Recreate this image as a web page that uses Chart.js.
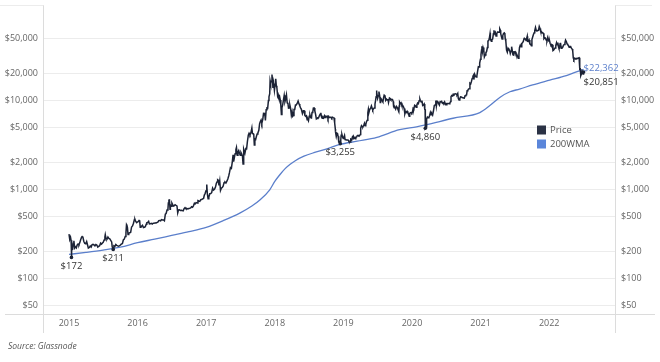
<!DOCTYPE html>
<html>
<head>
<meta charset="utf-8">
<script src="https://cdn.jsdelivr.net/npm/chart.js@4.4.1/dist/chart.umd.min.js"></script>
<style>
  html, body { margin: 0; padding: 0; background: #fff; }
  #wrap { position: relative; width: 660px; height: 362px; }
</style>
</head>
<body>
<div id="wrap"><canvas id="chart" width="660" height="362"></canvas></div>
<script>
// BTC price (daily close, sampled) by year: [MM-DD, USD]
const price2015 = [['01-01',315],['01-05',274],['01-09',290],['01-12',268],['01-14',172],['01-16',209],['01-20',211],['01-24',248],['01-27',265],['01-31',220],['02-04',227],['02-09',220],['02-13',236],['02-18',243],['02-23',238],['02-28',254],['03-04',272],['03-09',290],['03-12',295],['03-16',290],['03-21',260],['03-26',247],['03-31',245],['04-05',259],['04-10',236],['04-14',219],['04-19',222],['04-24',231],['04-29',225],['05-04',240],['05-09',242],['05-14',237],['05-19',232],['05-24',240],['05-29',237],['06-03',225],['06-08',229],['06-13',233],['06-18',249],['06-23',243],['06-28',250],['07-02',255],['07-07',270],['07-11',293],['07-13',310],['07-17',279],['07-22',277],['07-27',292],['08-01',281],['08-06',278],['08-11',268],['08-16',257],['08-19',226],['08-24',211],['08-28',232],['09-02',229],['09-07',240],['09-12',235],['09-17',232],['09-22',230],['09-27',233],['10-02',237],['10-07',244],['10-12',246],['10-17',270],['10-22',276],['10-27',295],['10-31',325],['11-03',402],['11-05',395],['11-08',372],['11-11',312],['11-15',320],['11-20',326],['11-25',328],['11-30',378],['12-05',388],['12-10',417],['12-15',458],['12-18',461],['12-22',436],['12-27',422],['12-31',430]];
const price2016 = [['01-04',433],['01-09',449],['01-12',446],['01-15',375],['01-19',380],['01-23',388],['01-27',395],['02-01',372],['02-06',376],['02-11',380],['02-16',407],['02-19',421],['02-24',424],['02-29',437],['03-04',410],['03-09',412],['03-14',415],['03-19',408],['03-24',417],['03-29',416],['04-03',420],['04-08',421],['04-13',424],['04-18',428],['04-23',446],['04-28',448],['05-03',444],['05-08',458],['05-13',454],['05-18',453],['05-23',444],['05-28',527],['06-01',536],['06-06',585],['06-11',608],['06-13',703],['06-16',760],['06-19',763],['06-22',597],['06-24',665],['06-28',647],['07-02',703],['07-06',676],['07-10',650],['07-14',654],['07-19',672],['07-24',661],['07-29',655],['08-02',545],['08-06',587],['08-11',589],['08-16',581],['08-21',583],['08-26',578],['08-31',574],['09-05',608],['09-10',624],['09-15',607],['09-20',609],['09-25',602],['09-30',609],['10-05',613],['10-10',619],['10-15',638],['10-20',630],['10-25',654],['10-30',699],['11-03',688],['11-08',710],['11-13',703],['11-18',749],['11-23',741],['11-28',734],['12-03',765],['12-08',768],['12-13',781],['12-18',791],['12-22',864],['12-26',897],['12-31',964]];
const price2017 = [['01-03',1021],['01-05',1135],['01-07',895],['01-11',785],['01-15',822],['01-20',895],['01-25',896],['01-30',920],['02-04',1033],['02-09',980],['02-14',1000],['02-19',1055],['02-24',1172],['03-01',1223],['03-03',1285],['03-06',1272],['03-10',1108],['03-14',1244],['03-18',974],['03-23',1040],['03-27',1046],['04-01',1089],['04-06',1190],['04-11',1210],['04-16',1180],['04-21',1236],['04-26',1310],['05-01',1422],['05-05',1550],['05-10',1755],['05-15',1725],['05-20',2048],['05-24',2445],['05-27',2052],['05-31',2287],['06-04',2518],['06-08',2795],['06-11',2958],['06-15',2426],['06-19',2619],['06-23',2732],['06-27',2553],['07-01',2424],['07-05',2602],['07-09',2504],['07-13',2355],['07-16',1929],['07-18',2310],['07-21',2832],['07-26',2548],['07-31',2875],['08-04',2856],['08-08',3412],['08-13',4073],['08-17',4276],['08-22',4089],['08-27',4345],['09-01',4892],['09-04',4235],['09-08',4226],['09-11',4161],['09-14',3154],['09-17',3681],['09-21',3631],['09-25',3932],['09-29',4193],['10-03',4314],['10-08',4611],['10-12',5432],['10-15',5711],['10-20',6006],['10-24',5525],['10-29',6130],['11-02',7144],['11-07',7118],['11-10',6618],['11-12',5950],['11-16',7871],['11-20',8201],['11-24',8148],['11-28',9958],['12-01',10975],['12-05',11916],['12-07',16600],['12-10',15455],['12-13',16408],['12-17',19497],['12-20',16624],['12-22',13831],['12-26',15838],['12-30',12952]];
const price2018 = [['01-03',15201],['01-06',17527],['01-09',14595],['01-12',13980],['01-16',11180],['01-19',11600],['01-22',10851],['01-26',11171],['01-30',10107],['02-02',8830],['02-05',6955],['02-08',8260],['02-12',8926],['02-16',10167],['02-20',11403],['02-24',9664],['02-28',10326],['03-04',11513],['03-08',9395],['03-12',9205],['03-15',8200],['03-18',8223],['03-22',8900],['03-26',8130],['03-30',6853],['04-03',7456],['04-06',6636],['04-10',6782],['04-13',7895],['04-17',7902],['04-21',8859],['04-25',8864],['04-30',9240],['05-05',9819],['05-10',9082],['05-14',8673],['05-18',8246],['05-22',8000],['05-28',7118],['06-02',7640],['06-06',7657],['06-10',6775],['06-14',6634],['06-18',6712],['06-22',6051],['06-26',6134],['06-29',5903],['07-03',6626],['07-07',6856],['07-11',6394],['07-15',6353],['07-18',7334],['07-22',7404],['07-25',8170],['07-29',8212],['08-02',7596],['08-06',6950],['08-10',6185],['08-14',6273],['08-18',6389],['08-22',6380],['08-26',6724],['08-30',6976],['09-03',7264],['09-06',6529],['09-10',6301],['09-14',6487],['09-18',6341],['09-22',6711],['09-26',6444],['09-30',6626],['10-04',6589],['10-08',6633],['10-11',6252],['10-15',6597],['10-19',6410],['10-23',6418],['10-27',6485],['10-31',6318],['11-04',6472],['11-08',6400],['11-12',6356],['11-14',5726],['11-17',5578],['11-19',4776],['11-20',4434],['11-24',3920],['11-28',4278],['12-01',4214],['12-04',3950],['12-07',3422],['12-11',3454],['12-15',3255],['12-18',3617],['12-20',4058],['12-24',4143],['12-28',3857],['12-31',3743]];
const price2019 = [['01-04',3857],['01-07',4025],['01-10',3630],['01-14',3630],['01-18',3600],['01-22',3597],['01-27',3583],['01-30',3470],['02-03',3411],['02-07',3399],['02-09',3661],['02-14',3593],['02-18',3903],['02-22',3984],['02-24',3743],['02-28',3813],['03-04',3707],['03-08',3865],['03-12',3871],['03-16',4025],['03-20',4050],['03-24',3994],['03-28',4024],['04-01',4147],['04-03',4880],['04-07',5199],['04-11',5050],['04-15',5049],['04-20',5326],['04-23',5528],['04-26',5198],['04-30',5350],['05-04',5777],['05-08',5990],['05-11',7263],['05-14',7994],['05-17',7363],['05-21',7962],['05-25',8062],['05-30',8660],['06-03',8155],['06-06',7790],['06-10',8022],['06-14',8230],['06-18',9080],['06-21',9930],['06-24',11020],['06-26',12900],['06-28',12410],['07-02',10580],['07-06',11300],['07-09',12570],['07-13',11350],['07-16',9470],['07-18',10620],['07-22',10320],['07-26',9890],['07-30',9590],['08-03',10820],['08-06',11460],['08-10',11280],['08-14',10030],['08-18',10360],['08-22',10130],['08-26',10360],['08-29',9490],['09-03',10620],['09-07',10470],['09-11',10160],['09-15',10310],['09-19',10270],['09-23',9710],['09-25',8550],['09-28',8250],['10-02',8330],['10-06',7990],['10-10',8580],['10-14',8360],['10-18',7940],['10-23',7470],['10-25',8660],['10-27',9550],['10-31',9200],['11-04',9410],['11-08',8760],['11-12',8800],['11-16',8500],['11-20',8110],['11-24',7050],['11-28',7500],['12-02',7320],['12-06',7550],['12-10',7220],['12-14',7080],['12-17',6640],['12-20',7150],['12-24',7260],['12-28',7300],['12-31',7190]];
const price2020 = [['01-03',7340],['01-07',8170],['01-11',8040],['01-15',8820],['01-19',8700],['01-23',8400],['01-27',8900],['01-31',9350],['02-04',9180],['02-08',9900],['02-12',10350],['02-15',9900],['02-19',9600],['02-23',9960],['02-27',8780],['03-02',8900],['03-06',9120],['03-09',7940],['03-11',7900],['03-12',4860],['03-16',5020],['03-19',6190],['03-23',6490],['03-27',6370],['03-31',6440],['04-04',6780],['04-08',7330],['04-12',6910],['04-16',7110],['04-20',6840],['04-24',7550],['04-29',8790],['05-03',8900],['05-07',9980],['05-10',8600],['05-14',9790],['05-18',9730],['05-22',9170],['05-26',8840],['05-30',9700],['06-03',9660],['06-07',9760],['06-11',9300],['06-15',9440],['06-19',9300],['06-23',9630],['06-27',9010],['07-01',9230],['07-05',9070],['07-09',9250],['07-13',9250],['07-17',9150],['07-21',9380],['07-25',9700],['07-27',11000],['07-31',11350],['08-04',11210],['08-08',11760],['08-12',11580],['08-16',11850],['08-20',11880],['08-24',11750],['08-28',11540],['09-01',11970],['09-04',10510],['09-08',10130],['09-12',10440],['09-16',10960],['09-20',10920],['09-24',10750],['09-28',10700],['10-02',10620],['10-06',10600],['10-10',11300],['10-14',11430],['10-18',11500],['10-21',12820],['10-25',13030],['10-29',13440],['11-02',13550],['11-05',15590],['11-09',15310],['11-13',16300],['11-17',17650],['11-21',18690],['11-24',19160],['11-26',17150],['11-30',19700],['12-04',18880],['12-08',18320],['12-12',18800],['12-16',21310],['12-20',23870],['12-24',23730],['12-27',26280],['12-31',28990]];
const price2021 = [['01-03',32780],['01-06',36820],['01-08',40580],['01-11',35500],['01-14',39190],['01-18',36630],['01-21',30830],['01-25',32290],['01-29',34270],['02-02',35510],['02-06',39260],['02-09',46400],['02-13',47170],['02-16',49200],['02-20',55890],['02-21',57490],['02-23',48820],['02-27',46280],['03-02',48380],['03-06',48880],['03-10',55960],['03-13',61240],['03-16',56440],['03-20',58330],['03-24',52800],['03-28',55970],['04-01',58800],['04-05',58750],['04-09',58220],['04-13',63500],['04-16',61340],['04-18',56220],['04-22',51760],['04-25',49060],['04-29',53550],['05-03',56620],['05-07',57350],['05-10',55860],['05-12',49150],['05-15',46760],['05-19',36690],['05-23',34770],['05-27',38530],['05-31',37330],['06-04',36880],['06-08',33560],['06-12',35560],['06-15',40160],['06-19',35800],['06-22',32510],['06-26',32240],['06-30',35040],['07-04',35290],['07-08',32870],['07-12',33100],['07-16',31530],['07-20',29790],['07-24',33820],['07-27',39390],['07-31',41630],['08-04',39970],['08-08',43810],['08-12',44420],['08-16',45980],['08-20',49330],['08-23',49550],['08-27',48900],['08-31',47170],['09-03',49940],['09-06',52670],['09-08',46060],['09-12',46050],['09-16',47790],['09-20',43010],['09-24',42840],['09-28',41030],['10-01',48230],['10-05',51510],['10-09',54970],['10-13',57400],['10-16',60920],['10-20',65990],['10-24',60930],['10-28',60620],['11-01',61000],['11-05',61130],['11-09',67570],['11-13',64160],['11-16',60370],['11-20',59730],['11-24',57170],['11-28',57250],['12-02',56510],['12-04',49370],['12-08',50580],['12-12',50100],['12-16',47630],['12-20',46680],['12-24',50830],['12-28',47590],['12-31',46310]];
const price2022 = [['01-03',46460],['01-06',43570],['01-10',41860],['01-13',42590],['01-17',42250],['01-21',36280],['01-24',36690],['01-28',37720],['02-01',38740],['02-05',41410],['02-09',44380],['02-12',42210],['02-16',44580],['02-19',40120],['02-22',38280],['02-24',38360],['02-28',43190],['03-02',44360],['03-06',38420],['03-10',39280],['03-14',39670],['03-18',41790],['03-22',42360],['03-26',44540],['03-29',47460],['04-02',45810],['04-06',43210],['04-10',42160],['04-13',41150],['04-17',39680],['04-21',40480],['04-25',40440],['04-29',38600],['05-03',37750],['05-06',36040],['05-09',30100],['05-12',28940],['05-16',29830],['05-20',29200],['05-24',29650],['05-28',29460],['06-01',29800],['06-05',29910],['06-09',30110],['06-12',26760],['06-13',22490],['06-15',22570],['06-18',19020],['06-22',19950],['06-26',21030],['06-30',19780],['07-03',20851]];

// 200-week moving average: [date, USD]
const wma200 = [['2015-01-01',186],['2015-04-01',196],['2015-07-01',208],['2015-10-01',224],['2016-01-01',252],['2016-04-01',276],['2016-07-01',304],['2016-10-01',335],['2017-01-01',375],['2017-04-01',445],['2017-07-01',545],['2017-09-01',650],['2017-10-15',765],['2017-12-05',990],['2018-01-01',1230],['2018-01-30',1480],['2018-02-25',1710],['2018-03-22',1900],['2018-04-20',2100],['2018-06-05',2360],['2018-08-01',2600],['2018-10-05',2850],['2018-12-13',3200],['2019-03-15',3480],['2019-06-28',3850],['2019-10-27',4700],['2020-01-25',5050],['2020-03-13',5300],['2020-08-07',6300],['2020-12-28',7300],['2021-02-21',8800],['2021-04-13',10800],['2021-06-06',12500],['2021-07-27',13400],['2021-10-05',14950],['2022-01-04',16900],['2022-04-02',19000],['2022-07-03',22362]];

const priceYears = { 2015: price2015, 2016: price2016, 2017: price2017, 2018: price2018, 2019: price2019, 2020: price2020, 2021: price2021, 2022: price2022 };
const markedDates = ['2015-01-14', '2015-08-24', '2018-12-15', '2020-03-12', '2022-07-03'];
const yearTicks = [2015, 2016, 2017, 2018, 2019, 2020, 2021, 2022];
const priceTicks = [50, 100, 200, 500, 1000, 2000, 5000, 10000, 20000, 50000];
const seriesNames = ['Price', '200WMA'];

const PRICE_COLOR = '#1c2336';
const WMA_COLOR = '#5b7fcb';
const FONT = "'Open Sans', sans-serif";

function toYear(s) {
  const d = Date.parse(s + 'T00:00:00Z');
  const y = +s.slice(0, 4);
  const a = Date.UTC(y, 0, 1), b = Date.UTC(y + 1, 0, 1);
  return y + (d - a) / (b - a);
}

const priceData = [];
const markedIdx = new Set();
Object.keys(priceYears).forEach(yr => {
  priceYears[yr].forEach(([md, v]) => {
    const date = yr + '-' + md;
    if (markedDates.includes(date)) markedIdx.add(priceData.length);
    priceData.push({ x: toYear(date), y: v });
  });
});
const wmaData = wma200.map(([d, v]) => ({ x: toYear(d), y: v }));

const money = v => '$' + Math.round(v).toLocaleString('en-US');

const framePlugin = {
  id: 'frame',
  beforeDatasetsDraw(chart) {
    const { ctx, chartArea: a } = chart;
    ctx.save();
    ctx.strokeStyle = '#dcdcdc';
    ctx.lineWidth = 1;
    ctx.beginPath();
    const L = Math.round(a.left) + 0.5, R = Math.round(a.right) + 0.5, B = Math.round(a.bottom) + 0.5;
    ctx.moveTo(L, 5); ctx.lineTo(L, 333);
    ctx.moveTo(R, 5); ctx.lineTo(R, 333);
    ctx.moveTo(5, B); ctx.lineTo(655, B);
    ctx.stroke();
    ctx.strokeStyle = '#ececec';
    ctx.beginPath();
    ctx.moveTo(0, 5.5); ctx.lineTo(L, 5.5);
    ctx.moveTo(R, 5.5); ctx.lineTo(652, 5.5);
    ctx.stroke();
    ctx.restore();
  },
  afterDatasetsDraw(chart) {
    const { ctx } = chart;
    const pts = chart.getDatasetMeta(0).data;
    const wpts = chart.getDatasetMeta(1).data;
    const last = priceData.length - 1;
    ctx.save();
    ctx.font = '9.5px ' + FONT;
    ctx.fillStyle = '#333';
    ctx.textBaseline = 'middle';
    markedIdx.forEach(i => {
      const p = pts[i];
      const txt = money(priceData[i].y);
      if (i === last) {
        ctx.textAlign = 'left';
        ctx.fillText(txt, p.x, p.y + 10);
      } else {
        ctx.textAlign = 'center';
        ctx.fillText(txt, p.x, p.y + 9);
      }
    });
    const w = wpts[wpts.length - 1];
    ctx.fillStyle = WMA_COLOR;
    ctx.textAlign = 'left';
    ctx.fillText(money(wmaData[wmaData.length - 1].y), w.x, w.y - 1);

    // legend
    const lx = 537, ly = [130, 144];
    [PRICE_COLOR, WMA_COLOR].forEach((c, k) => {
      ctx.fillStyle = k === 0 ? '#2b3245' : '#5b86da';
      ctx.fillRect(lx, ly[k] - 4.5, 9, 9);
      ctx.fillStyle = '#555';
      ctx.textAlign = 'left';
      ctx.font = '9.5px ' + FONT;
      ctx.fillText(seriesNames[k], lx + 13, ly[k]);
    });

    // source
    ctx.font = 'italic 8.5px ' + FONT;
    ctx.fillStyle = '#555';
    ctx.fillText('Source: Glassnode', 8, 347);
    ctx.restore();
  }
};

new Chart(document.getElementById('chart'), {
  type: 'line',
  data: {
    datasets: [
      {
        label: seriesNames[0],
        data: priceData,
        borderColor: PRICE_COLOR,
        backgroundColor: PRICE_COLOR,
        borderWidth: 1.5,
        pointRadius: c => markedIdx.has(c.index) ? 1.8 : 0,
        pointBorderWidth: 0,
        tension: 0,
        yAxisID: 'y'
      },
      {
        label: seriesNames[1],
        data: wmaData,
        borderColor: WMA_COLOR,
        borderWidth: 1.3,
        pointRadius: 0,
        cubicInterpolationMode: 'monotone',
        yAxisID: 'y'
      }
    ]
  },
  options: {
    responsive: false,
    animation: false,
    devicePixelRatio: 1,
    layout: { padding: { top: 3.8, bottom: 28, left: 0, right: 0 } },
    plugins: { legend: { display: false }, tooltip: { enabled: false } },
    scales: {
      x: {
        type: 'linear',
        min: 2014.621,
        max: 2022.959,
        grid: { display: false, drawTicks: false },
        border: { display: false },
        afterBuildTicks: s => { s.ticks = yearTicks.map(v => ({ value: v })); },
        afterFit: s => { s.height = 20.2; },
        ticks: {
          padding: 4,
          maxRotation: 0,
          color: '#666',
          font: { family: FONT, size: 9 },
          callback: v => String(v)
        }
      },
      y: {
        type: 'logarithmic',
        position: 'left',
        min: 40,
        max: 100000,
        grid: { color: '#ececec', lineWidth: 1, drawTicks: false },
        border: { display: false },
        afterBuildTicks: s => { s.ticks = priceTicks.map(v => ({ value: v })); },
        afterFit: s => { s.width = 43; },
        ticks: {
          padding: 5,
          color: '#666',
          font: { family: FONT, size: 9 },
          callback: v => money(v)
        }
      },
      y2: {
        type: 'logarithmic',
        position: 'right',
        min: 40,
        max: 100000,
        grid: { display: false, drawTicks: false },
        border: { display: false },
        afterBuildTicks: s => { s.ticks = priceTicks.map(v => ({ value: v })); },
        afterFit: s => { s.width = 45; },
        ticks: {
          padding: 6,
          color: '#666',
          font: { family: FONT, size: 9 },
          callback: v => money(v)
        }
      }
    }
  },
  plugins: [framePlugin]
});
</script>
</body>
</html>
